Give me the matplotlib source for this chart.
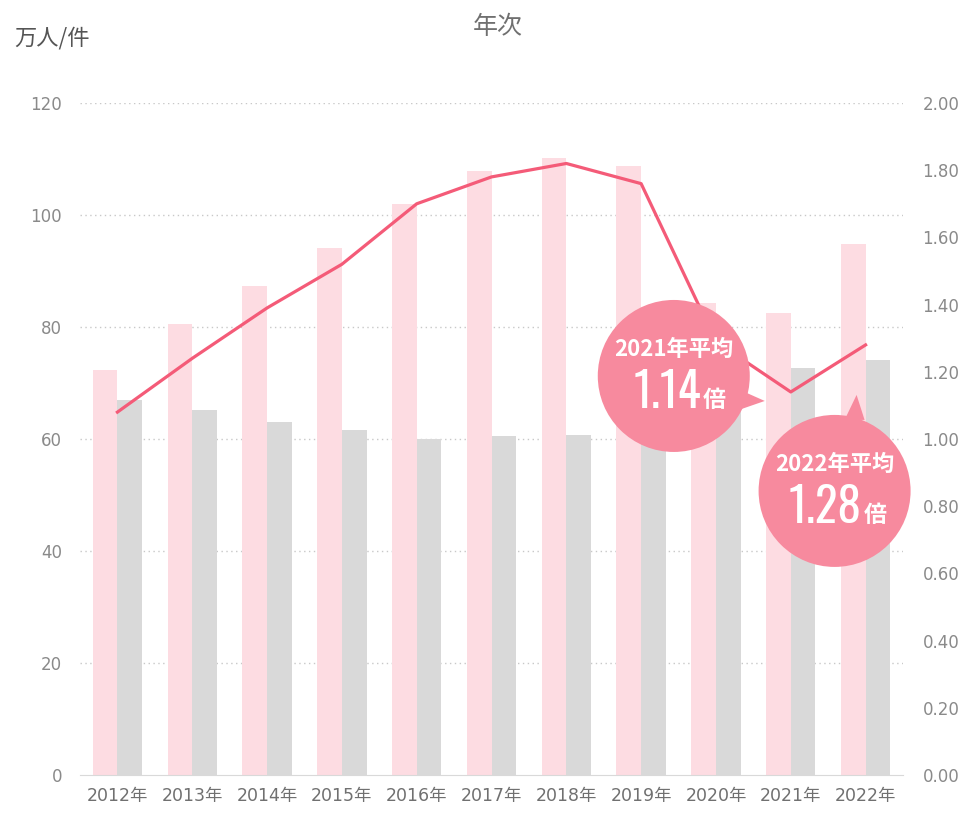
import matplotlib
matplotlib.use("Agg")
import matplotlib.pyplot as plt
from matplotlib import font_manager
from matplotlib.patches import Circle, Polygon
import numpy as np

plt.rcParams['font.family'] = ['Noto Sans CJK JP', 'DejaVu Sans']

# data
years = ['2012年', '2013年', '2014年', '2015年', '2016年', '2017年',
         '2018年', '2019年', '2020年', '2021年', '2022年']
applicants = [72.3, 80.5, 87.3, 94.1, 102.0, 107.9, 110.2, 108.8, 84.3, 82.5, 94.8]
openings = [67.0, 65.2, 63.0, 61.6, 60.0, 60.5, 60.7, 61.8, 65.3, 72.7, 74.1]
ratio = [1.08, 1.24, 1.39, 1.52, 1.70, 1.78, 1.82, 1.76, 1.29, 1.14, 1.28]
left_ticks = [0, 20, 40, 60, 80, 100, 120]
right_ticks = [0.0, 0.2, 0.4, 0.6, 0.8, 1.0, 1.2, 1.4, 1.6, 1.8, 2.0]
callouts = [(9, '2021年平均', '1.14'), (10, '2022年平均', '1.28')]

PINK = '#FDDCE2'
GRAY = '#D9D9D9'
LINE = '#F45B78'
BUBBLE = '#F78A9E'
TXT = '#707070'
TICKFONT = ['DejaVu Sans', 'Noto Sans CJK JP']


def pick_font(cands):
    # first condensed face that is actually installed
    for name, size in cands:
        try:
            font_manager.findfont(font_manager.FontProperties(family=name),
                                  fallback_to_default=False)
            return name, size
        except Exception:
            pass
    return 'Noto Sans CJK JP', 28


num_font, num_size = pick_font([('Oswald', 34), ('Roboto Condensed', 34),
                                ('Liberation Sans Narrow', 36),
                                ('DejaVu Sans Condensed', 28)])

W, H = 967, 815
fig = plt.figure(figsize=(W / 100, H / 100), dpi=100)
ax = fig.add_axes([80 / W, 40 / H, 823 / W, 672 / H])
x = np.arange(len(years))
bw = 0.33
ax.bar(x - bw / 2, applicants, bw, color=PINK, zorder=2)
ax.bar(x + bw / 2, openings, bw, color=GRAY, zorder=2)
ax.set_xlim(-0.5, len(years) - 0.5)
ax.set_ylim(0, 120)
ax.set_yticks(left_ticks)
ax.set_xticks(x)
ax.set_xticklabels(years, family=TICKFONT)
ax.set_yticklabels([str(v) for v in left_ticks], family=TICKFONT)
for v in left_ticks[1:]:
    ax.axhline(v, color='#C8C8C8', lw=1, ls=(0, (1, 2.5)), zorder=1)
for s in ['top', 'left', 'right']:
    ax.spines[s].set_visible(False)
ax.spines['bottom'].set_color('#D9D9D9')
ax.tick_params(axis='y', length=0, pad=13, labelsize=12, labelcolor='#8A8A8A')
ax.tick_params(axis='x', length=0, pad=9, labelsize=12.5, labelcolor='#707070')

ax2 = ax.twinx()
ax2.plot(x, ratio, color=LINE, lw=2.3, zorder=5)
ax2.set_ylim(0, 2.0)
ax2.set_yticks(right_ticks)
ax2.set_yticklabels([f'{v:.2f}' for v in right_ticks], family=TICKFONT)
for s in ['top', 'left', 'right', 'bottom']:
    ax2.spines[s].set_visible(False)
ax2.tick_params(axis='y', length=0, pad=14, labelsize=12, labelcolor='#8A8A8A')

fig.text(498 / W, 1 - 27 / H, '年次', ha='center', va='center',
         fontsize=18, color=TXT)
fig.text(14 / W, 1 - 38 / H, '万人/件', ha='left', va='center',
         fontsize=16, color='#555555')

# callout bubbles, placed relative to the line point they refer to
ov = fig.add_axes([0, 0, 1, 1], zorder=10)
ov.set_xlim(0, W)
ov.set_ylim(H, 0)
ov.axis('off')
ov.patch.set_alpha(0)

shapes = {
    9: dict(c=(-117, -16), tail=[(-44, 1), (-26, 9), (-52, 18)]),
    10: dict(c=(-31, 146), tail=[(-21, 75), (-9, 50), (-1, 75)]),
}
for i, label, num in callouts:
    dx, dy = ax2.transData.transform((i, ratio[i]))
    px, py = dx, H - dy
    sh = shapes[i]
    cx, cy = px + sh['c'][0], py + sh['c'][1]
    ov.add_patch(Circle((cx, cy), 76, color=BUBBLE, lw=0))
    ov.add_patch(Polygon([(px + a, py + b) for a, b in sh['tail']],
                         closed=True, color=BUBBLE, lw=0))
    ov.text(cx, cy - 26, label, ha='center', va='center', color='white',
            fontsize=16, fontweight='bold')
    ov.text(cx + 27, cy + 17, num, ha='right', va='center', color='white',
            fontsize=num_size, fontweight='bold', family=[num_font, 'DejaVu Sans'])
    ov.text(cx + 29, cy + 25, '倍', ha='left', va='center', color='white',
            fontsize=16.5, fontweight='bold')

fig.savefig('out.png', dpi=100)
